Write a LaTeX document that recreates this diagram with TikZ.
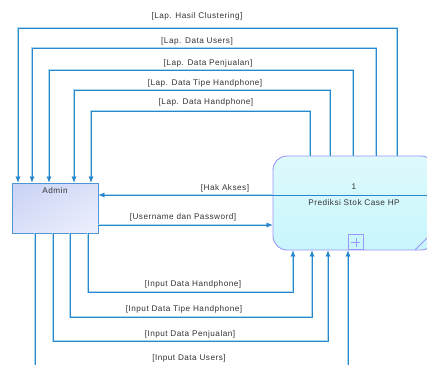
\documentclass[tikz,border=0pt]{standalone}
\usepackage{fontspec}
\setmainfont{Liberation Sans}[LetterSpace=6]
\usetikzlibrary{arrows.meta,calc,shadings}
\definecolor{flowblue}{RGB}{40,135,205}
\definecolor{halo}{RGB}{170,215,240}
\definecolor{procborder}{RGB}{155,150,250}
\definecolor{admborder}{RGB}{80,150,215}
\definecolor{admA}{RGB}{200,210,244}
\definecolor{admB}{RGB}{238,240,253}
\definecolor{procA}{RGB}{222,250,253}
\definecolor{procB}{RGB}{200,246,252}
\begin{document}
\begin{tikzpicture}[x=1pt,y=-1pt,
  flow/.style={draw=flowblue,line width=0.7pt,
    preaction={draw=halo,line width=1.8pt}},
  arr/.style={-{Latex[length=6pt,width=5pt]}},
  lbl/.style={font=\fontsize{8.2}{9}\selectfont,inner sep=0pt,text=black!80},
  admbox/.style={draw=admborder,line width=0.9pt,minimum width=86pt,minimum height=50pt,
    inner sep=0pt,upper left=admA,lower right=admB,upper right=admA!50!admB,lower left=admA!50!admB},
  procbox/.style={draw=procborder,line width=0.9pt,rounded corners=14pt,minimum width=162pt,
    minimum height=94pt,inner sep=0pt,top color=procA,bottom color=procB}]
\useasboundingbox (0,0) rectangle (427,364);
\clip (0,0) rectangle (427,364);
\fill[white] (0,0) rectangle (427,364);
% nodes
\node[admbox] (admin) at (55,208) {};
\node[lbl,anchor=north] at (admin.north) [yshift=-5pt] {Admin};
\node[procbox] (proc) at (354,203) {};
\node[lbl] (pnum) at (354,187) {1};
\node[lbl] (pname) at (354,203) {Prediksi Stok Case HP};
\node[draw=procborder,line width=0.8pt,minimum width=15pt,minimum height=15pt,inner sep=0pt,anchor=south west] (plus) at (348,250) {};
\draw[procborder,line width=0.6pt] ($(plus.center)+(-4.5,0)$) -- ($(plus.center)+(4.5,0)$)
  ($(plus.center)+(0,-4.5)$) -- ($(plus.center)+(0,4.5)$);
\draw[procborder,line width=0.8pt] (415,250) -- (440,225);
% column coordinates
\foreach \n/\x in {a1/18,a2/32,a3/49,a4/74,a5/91,p1/397,p2/376,p3/353,p4/330,p5/310,
  b1/88,b2/70,b3/53,b4/35,q1/293,q2/312,q3/328,q4/348}{\coordinate (\n) at (\x,0);}
\foreach \n/\y in {t1/28,t2/48,t3/70,t4/90,t5/111,u1/292,u2/317,u3/341,u4/372,yh/195,yu/225}{\coordinate (\n) at (0,\y);}
% top flows: process -> admin
\draw[flow,arr] (proc.north -| p1) |- (a1 |- t1) -- (admin.north -| a1);
\draw[flow,arr] (proc.north -| p2) |- (a2 |- t2) -- (admin.north -| a2);
\draw[flow,arr] (proc.north -| p3) |- (a3 |- t3) -- (admin.north -| a3);
\draw[flow,arr] (proc.north -| p4) |- (a4 |- t4) -- (admin.north -| a4);
\draw[flow,arr] (proc.north -| p5) |- (a5 |- t5) -- (admin.north -| a5);
\node[lbl] at (197,16) {[Lap. Hasil Clustering]};
\node[lbl] at (197,41) {[Lap. Data Users]};
\node[lbl] at (208,63) {[Lap. Data Penjualan]};
\node[lbl] at (205,83) {[Lap. Data Tipe Handphone]};
\node[lbl] at (206,102) {[Lap. Data Handphone]};
% separator in process
\draw[flowblue,line width=0.7pt] (proc.west |- yh) -- (proc.east |- yh);
% hak akses / username
\draw[flow,arr] (proc.west |- yh) -- (admin.east |- yh);
\node[lbl] at (225,188) {[Hak Akses]};
\draw[flow,arr] (admin.east |- yu) -- (proc.west |- yu);
\node[lbl] at (183,217) {[Username dan Password]};
% bottom flows: admin -> process
\draw[flow,arr] (admin.south -| b1) |- (q1 |- u1) -- (proc.south -| q1);
\draw[flow,arr] (admin.south -| b2) |- (q2 |- u2) -- (proc.south -| q2);
\draw[flow,arr] (admin.south -| b3) |- (q3 |- u3) -- (proc.south -| q3);
\draw[flow,arr] (admin.south -| b4) |- (q4 |- u4) -- (proc.south -| q4);
\node[lbl] at (193,284) {[Input Data Handphone]};
\node[lbl] at (184,309) {[Input Data Tipe Handphone]};
\node[lbl] at (190,334) {[Input Data Penjualan]};
\node[lbl] at (189,358) {[Input Data Users]};
\end{tikzpicture}
\end{document}
